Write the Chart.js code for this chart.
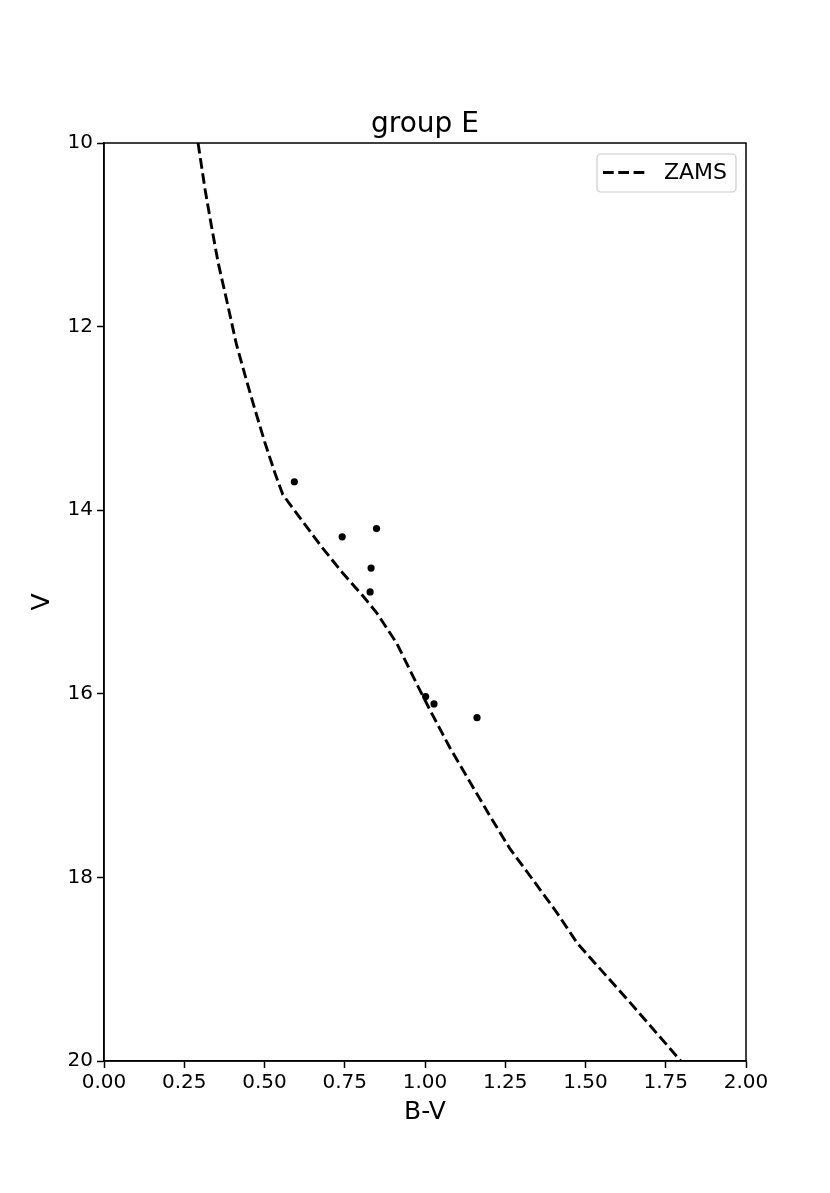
<!DOCTYPE html>
<html lang="en">
  <head>
    <meta charset="UTF-8" />
    <title>group E</title>
    <script src="https://cdn.jsdelivr.net/npm/chart.js"></script>
    <style>
      body {
        margin: 0;
        background: #ffffff;
      }
      #wrap {
        width: 830px;
        height: 1193px;
      }
    </style>
  </head>
  <body>
    <div id="wrap">
      <canvas id="cmd" width="830" height="1193"></canvas>
    </div>

    <script>
      // ZAMS curve (B-V, V)
      const zamsBV = [0.293, 0.315, 0.335, 0.356, 0.382, 0.413, 0.445, 0.470, 0.500, 0.533, 0.557, 0.595, 0.678, 0.745, 0.808, 0.850, 0.912, 0.974, 1.016, 1.078, 1.135, 1.202, 1.265, 1.337, 1.410, 1.475, 1.633, 1.797];
      const zamsV = [10.0, 10.51, 10.91, 11.31, 11.71, 12.20, 12.60, 12.90, 13.25, 13.60, 13.83, 14.01, 14.40, 14.69, 14.94, 15.12, 15.45, 15.89, 16.18, 16.59, 16.93, 17.33, 17.69, 18.03, 18.38, 18.72, 19.34, 20.0];

      // group E stars
      const starBV = [0.593, 0.742, 0.849, 0.832, 0.829, 1.002, 1.028, 1.162];
      const starV = [13.69, 14.29, 14.20, 14.63, 14.89, 16.03, 16.11, 16.26];

      const xTicks = [0, 0.25, 0.5, 0.75, 1.0, 1.25, 1.5, 1.75, 2.0];
      const yTicks = [10, 12, 14, 16, 18, 20];

      const fontFamily = "'DejaVu Sans', sans-serif";

      // matplotlib-like frame + legend box
      const framePlugin = {
        id: 'frame',
        afterDraw(chart) {
          const { ctx, chartArea: { left, top, right, bottom } } = chart;
          ctx.save();
          ctx.strokeStyle = '#000';
          ctx.lineWidth = 1.5;
          ctx.strokeRect(left, top, right - left, bottom - top);

          // legend
          const zams = chart.data.datasets[0];
          const bx = 597, by = 154, bw = 139, bh = 38, r = 4;
          ctx.beginPath();
          ctx.roundRect(bx, by, bw, bh, r);
          ctx.fillStyle = 'rgba(255,255,255,0.8)';
          ctx.fill();
          ctx.strokeStyle = '#cccccc';
          ctx.lineWidth = 1.2;
          ctx.stroke();

          ctx.beginPath();
          ctx.setLineDash(zams.borderDash);
          ctx.strokeStyle = zams.borderColor;
          ctx.lineWidth = zams.borderWidth;
          ctx.moveTo(603, 172.5);
          ctx.lineTo(647, 172.5);
          ctx.stroke();
          ctx.setLineDash([]);

          ctx.fillStyle = '#000';
          ctx.font = '22px ' + fontFamily;
          ctx.textBaseline = 'middle';
          ctx.textAlign = 'left';
          ctx.fillText(zams.label, 664, 173);
          ctx.restore();
        }
      };

      new Chart(document.getElementById('cmd'), {
        type: 'scatter',
        data: {
          datasets: [
            {
              label: 'ZAMS',
              data: zamsBV.map((x, i) => ({ x: x, y: zamsV[i] })),
              showLine: true,
              borderColor: '#000000',
              borderWidth: 2.9,
              borderDash: [10.7, 4.6],
              pointRadius: 0,
              tension: 0,
              fill: false
            },
            {
              label: 'stars',
              data: starBV.map((x, i) => ({ x: x, y: starV[i] })),
              pointRadius: 3.6,
              pointBackgroundColor: '#000000',
              pointBorderWidth: 0,
              showLine: false
            }
          ]
        },
        options: {
          responsive: false,
          animation: false,
          devicePixelRatio: 1,
          layout: { padding: { top: 108, left: 0, right: 84, bottom: 66 } },
          plugins: {
            legend: { display: false },
            tooltip: { enabled: false },
            title: {
              display: true,
              fullSize: false,
              text: 'group E',
              color: '#000',
              font: { family: fontFamily, size: 28, weight: 'normal' },
              padding: { top: 0, bottom: 1.4 }
            }
          },
          scales: {
            x: {
              type: 'linear',
              min: 0,
              max: 2,
              afterBuildTicks(scale) {
                scale.ticks = xTicks.map(v => ({ value: v }));
              },
              afterFit(scale) {
                scale.height = 66;
              },
              ticks: {
                color: '#000',
                font: { family: fontFamily, size: 20 },
                padding: 3,
                maxRotation: 0,
                callback: v => Number(v).toFixed(2)
              },
              grid: {
                drawOnChartArea: false,
                drawTicks: true,
                tickLength: 7,
                tickWidth: 1.5,
                tickColor: '#000'
              },
              border: { display: true, color: '#000', width: 1.5 },
              title: {
                display: true,
                text: 'B-V',
                color: '#000',
                font: { family: fontFamily, size: 25 },
                padding: { top: 0, bottom: 0 }
              }
            },
            y: {
              type: 'linear',
              min: 10,
              max: 20,
              reverse: true,
              afterBuildTicks(scale) {
                scale.ticks = yTicks.map(v => ({ value: v }));
              },
              afterFit(scale) {
                scale.width = 104;
              },
              ticks: {
                color: '#000',
                font: { family: fontFamily, size: 20 },
                padding: 4,
                callback: v => String(v)
              },
              grid: {
                drawOnChartArea: false,
                drawTicks: true,
                tickLength: 7,
                tickWidth: 1.5,
                tickColor: '#000'
              },
              border: { display: true, color: '#000', width: 1.5 },
              title: {
                display: true,
                text: 'V',
                color: '#000',
                font: { family: fontFamily, size: 25 },
                padding: { top: 27, bottom: 0 }
              }
            }
          }
        },
        plugins: [framePlugin]
      });
    </script>
  </body>
</html>
